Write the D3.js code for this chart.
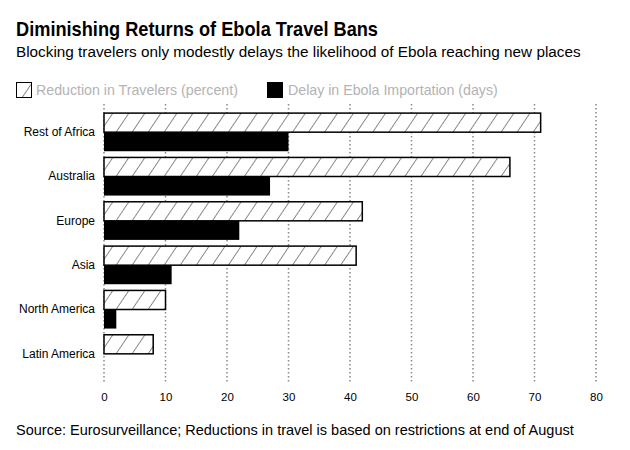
<!DOCTYPE html>
<html>
<head>
<meta charset="utf-8">
<script src="https://cdn.jsdelivr.net/npm/d3@7"></script>
<style>
  body { margin: 0; background: #fff; }
  text { font-family: "Liberation Sans", Arial, sans-serif; }
</style>
</head>
<body>
<div id="chart"></div>
<script>
// chart data
const regions = ["Rest of Africa", "Australia", "Europe", "Asia", "North America", "Latin America"];
const travelReduction = [71, 66, 42, 41, 10, 8];
const importDelay = [30, 27, 22, 11, 2, 0];
const xTicks = [0, 10, 20, 30, 40, 50, 60, 70, 80];
const seriesNames = ["Reduction in Travelers (percent)", "Delay in Ebola Importation (days)"];

const width = 630, height = 450;

const svg = d3.select("#chart")
  .append("svg")
  .attr("width", width)
  .attr("height", height);

// hatch pattern for the travel bars (steep "/" lines, ~16px apart)
svg.append("defs")
  .append("pattern")
  .attr("id", "hatch")
  .attr("patternUnits", "userSpaceOnUse")
  .attr("width", 13.3)
  .attr("height", 13.3)
  .attr("patternTransform", "rotate(34)")
  .call(p => {
    p.append("rect").attr("width", 13.3).attr("height", 13.3).attr("fill", "#fff");
    p.append("line")
      .attr("x1", 0).attr("y1", 0).attr("x2", 0).attr("y2", 13.3)
      .attr("stroke", "#000").attr("stroke-width", 0.9);
  });

// titles
svg.append("text")
  .attr("x", 16).attr("y", 36)
  .attr("font-size", 21).attr("font-weight", "bold")
  .attr("textLength", 362).attr("lengthAdjust", "spacingAndGlyphs")
  .text("Diminishing Returns of Ebola Travel Bans");

svg.append("text")
  .attr("x", 16).attr("y", 57)
  .attr("font-size", 15.3)
  .text("Blocking travelers only modestly delays the likelihood of Ebola reaching new places");

// legend
const legend = svg.append("g").attr("transform", "translate(16,82)");
legend.append("rect")
  .attr("x", 0.5).attr("y", 0.5).attr("width", 15).attr("height", 15)
  .attr("fill", "url(#hatch)").attr("stroke", "#000");
legend.append("text")
  .attr("x", 20).attr("y", 13)
  .attr("font-size", 14.2).attr("fill", "#b3b3b3")
  .text(seriesNames[0]);
legend.append("rect")
  .attr("x", 251).attr("y", 0).attr("width", 16).attr("height", 16)
  .attr("fill", "#000");
legend.append("text")
  .attr("x", 272).attr("y", 13)
  .attr("font-size", 14.2).attr("fill", "#b3b3b3")
  .text(seriesNames[1]);

// scales
const x = d3.scaleLinear().domain([0, 80]).range([104, 596]);
const y = d3.scaleBand().domain(regions).range([110, 376]).paddingInner(0.14).paddingOuter(0.07);
const sub = d3.scaleBand().domain([0, 1]).range([0, y.bandwidth()]);

// grid lines
svg.append("g")
  .selectAll("line")
  .data(xTicks)
  .join("line")
  .attr("x1", d => x(d)).attr("x2", d => x(d))
  .attr("y1", 104).attr("y2", 383)
  .attr("stroke", "#888")
  .attr("stroke-width", 1.5)
  .attr("stroke-dasharray", "1.5,2.5");

// x axis labels
const xAxis = svg.append("g")
  .attr("transform", "translate(0,387)")
  .call(d3.axisBottom(x).tickValues(xTicks).tickSize(0).tickPadding(6));
xAxis.select(".domain").remove();
xAxis.selectAll("text")
  .attr("font-size", 11.5)
  .attr("font-family", "Liberation Sans, Arial, sans-serif")
  .attr("fill", "#000");

// y axis labels
const yAxis = svg.append("g")
  .attr("transform", "translate(95,0)")
  .call(d3.axisLeft(y).tickSize(0).tickPadding(0));
yAxis.select(".domain").remove();
yAxis.selectAll("text")
  .attr("font-size", 12)
  .attr("font-family", "Liberation Sans, Arial, sans-serif")
  .attr("fill", "#000");

// bars
const groups = svg.append("g")
  .selectAll("g")
  .data(regions)
  .join("g")
  .attr("transform", d => `translate(0,${y(d)})`);

groups.append("rect")
  .attr("x", x(0))
  .attr("y", sub(0))
  .attr("width", (d, i) => x(travelReduction[i]) - x(0))
  .attr("height", sub.bandwidth())
  .attr("fill", "url(#hatch)")
  .attr("stroke", "#000")
  .attr("stroke-width", 1.5);

groups.filter((d, i) => importDelay[i] > 0)
  .append("rect")
  .attr("x", x(0))
  .attr("y", sub(1))
  .attr("width", d => x(importDelay[regions.indexOf(d)]) - x(0))
  .attr("height", sub.bandwidth())
  .attr("fill", "#000");

// source
svg.append("text")
  .attr("x", 16).attr("y", 435)
  .attr("font-size", 14.5)
  .text("Source: Eurosurveillance; Reductions in travel is based on restrictions at end of August");
</script>
</body>
</html>
